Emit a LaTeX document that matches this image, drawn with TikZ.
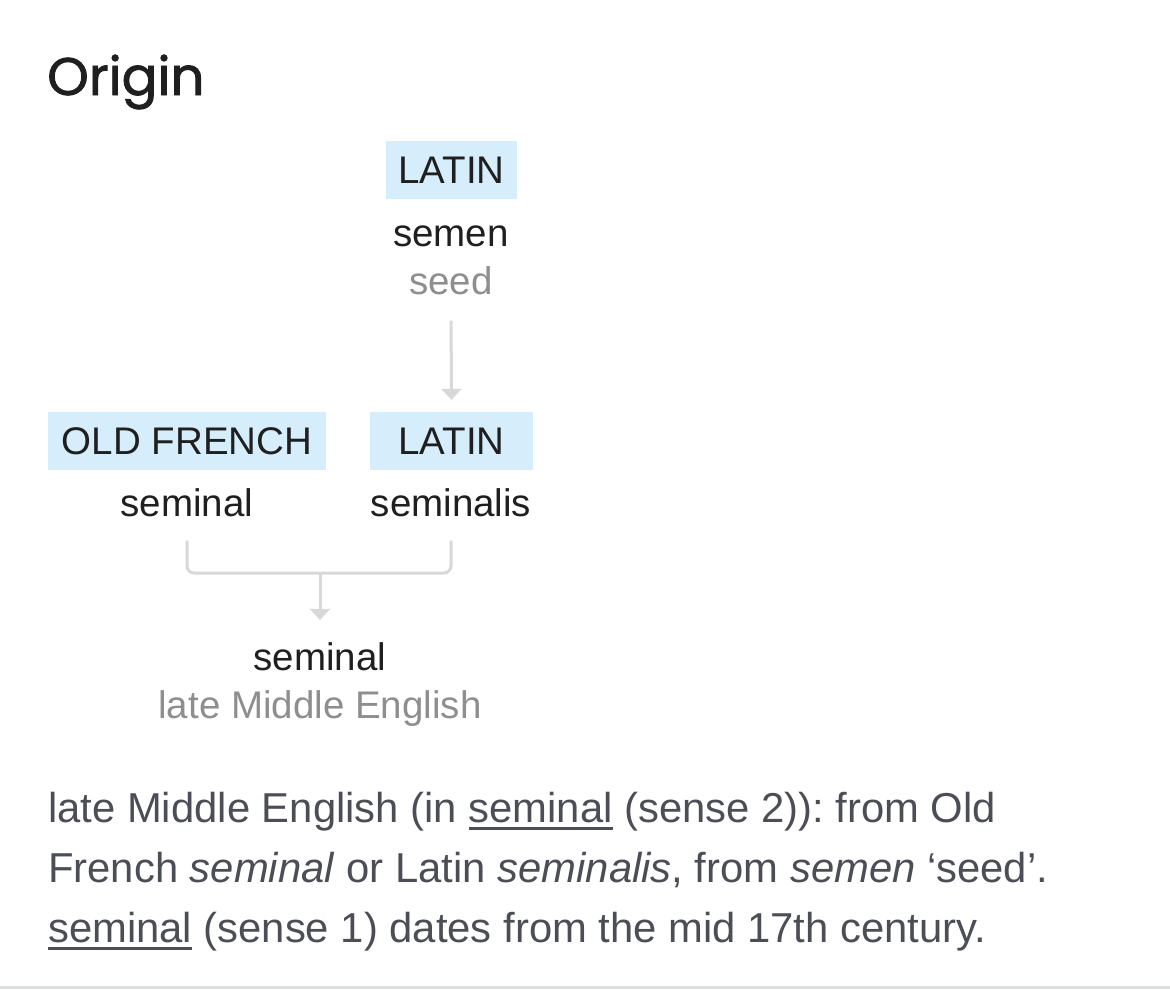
\documentclass[tikz,border=0pt]{standalone}
\usepackage{fontspec}
\setmainfont{Liberation Sans}
\newfontfamily\headfont[FakeBold=1.5]{Poppins}
\usetikzlibrary{arrows.meta}

\definecolor{ink}{HTML}{1F1F1F}
\definecolor{langbg}{HTML}{D6EEFB}
\definecolor{glossgray}{HTML}{8E8E8E}
\definecolor{linkgray}{HTML}{D8D8D8}
\definecolor{bodygray}{HTML}{4B4E56}
\definecolor{rulegray}{HTML}{DCDFE0}

\newcommand{\diagfont}{\fontsize{38.5}{46}\selectfont}
\newcommand{\bodyfont}{\fontsize{41.8}{60}\selectfont\frenchspacing}
\newcommand{\wordlink}[1]{\setbox0\hbox{#1}\rlap{\color{bodygray}\rule[-8pt]{\wd0}{2.6pt}}\box0\relax}

\begin{document}
\begin{tikzpicture}[
        x=1pt, y=-1pt, % pixel grid, y downwards
        lang/.style = {fill=langbg, text=ink, font=\diagfont, inner xsep=0pt,
                minimum height=58pt, text height=27.6pt, text depth=0pt}, % language tag
        word/.style = {anchor=base, inner sep=0pt, text=ink, font=\diagfont}, % word form
        gloss/.style = {word, text=glossgray}, % meaning / period
        link/.style = {draw=linkgray, line width=3pt},
        tip/.style = {-{Triangle[width=20pt, length=11pt]}},
        body/.style = {anchor=base west, inner sep=0pt, text=bodygray, font=\bodyfont},
    ]
    \useasboundingbox (0,0) rectangle (1170,989);

    \node[anchor=base west, inner sep=0pt, text=ink, font=\headfont\fontsize{53}{60}\selectfont] (title) at (47,95) {Origin};

    % Latin semen
    \node[lang, minimum width=131pt] (latinA) at (451.5,170) {LATIN};
    \node[word] (semen) at (451,246) {semen};
    \node[gloss] (seed) at (451,294) {seed};

    % Old French and Latin
    \node[lang, minimum width=278pt] (ofr) at (187,441) {OLD FRENCH};
    \node[lang, minimum width=163pt] (latinB) at (451.5,441) {LATIN};
    \node[word] (frw) at (187,516) {seminal};
    \node[word] (ltw) at (451,516) {seminalis};

    % English
    \node[word] (mew) at (320,670) {seminal};
    \node[gloss] (period) at (320,718) {late Middle English};

    \coordinate (join) at (320,573);
    \draw[link, tip, shorten <=26pt, shorten >=12pt] (seed.south) -- (latinB.north);
    \draw[link, rounded corners=7pt, shorten <=24pt, shorten >=24pt] (frw.south) |- (join) -| (ltw.south);
    \draw[link, tip, shorten >=22pt] (join) -- (mew.north);

    % text below
    \node[body] (body1) at (48,822) {late Middle English (in \wordlink{seminal} (sense 2)): from Old};
    \node[body] (body2) at (48,882) {French \textit{seminal} or Latin \textit{seminalis}, from \textit{semen} ‘seed’.};
    \node[body] (body3) at (48,942) {\wordlink{seminal} (sense 1) dates from the mid 17th century.};

    \fill[rulegray] (0,986) rectangle (1170,989);
\end{tikzpicture}
\end{document}
